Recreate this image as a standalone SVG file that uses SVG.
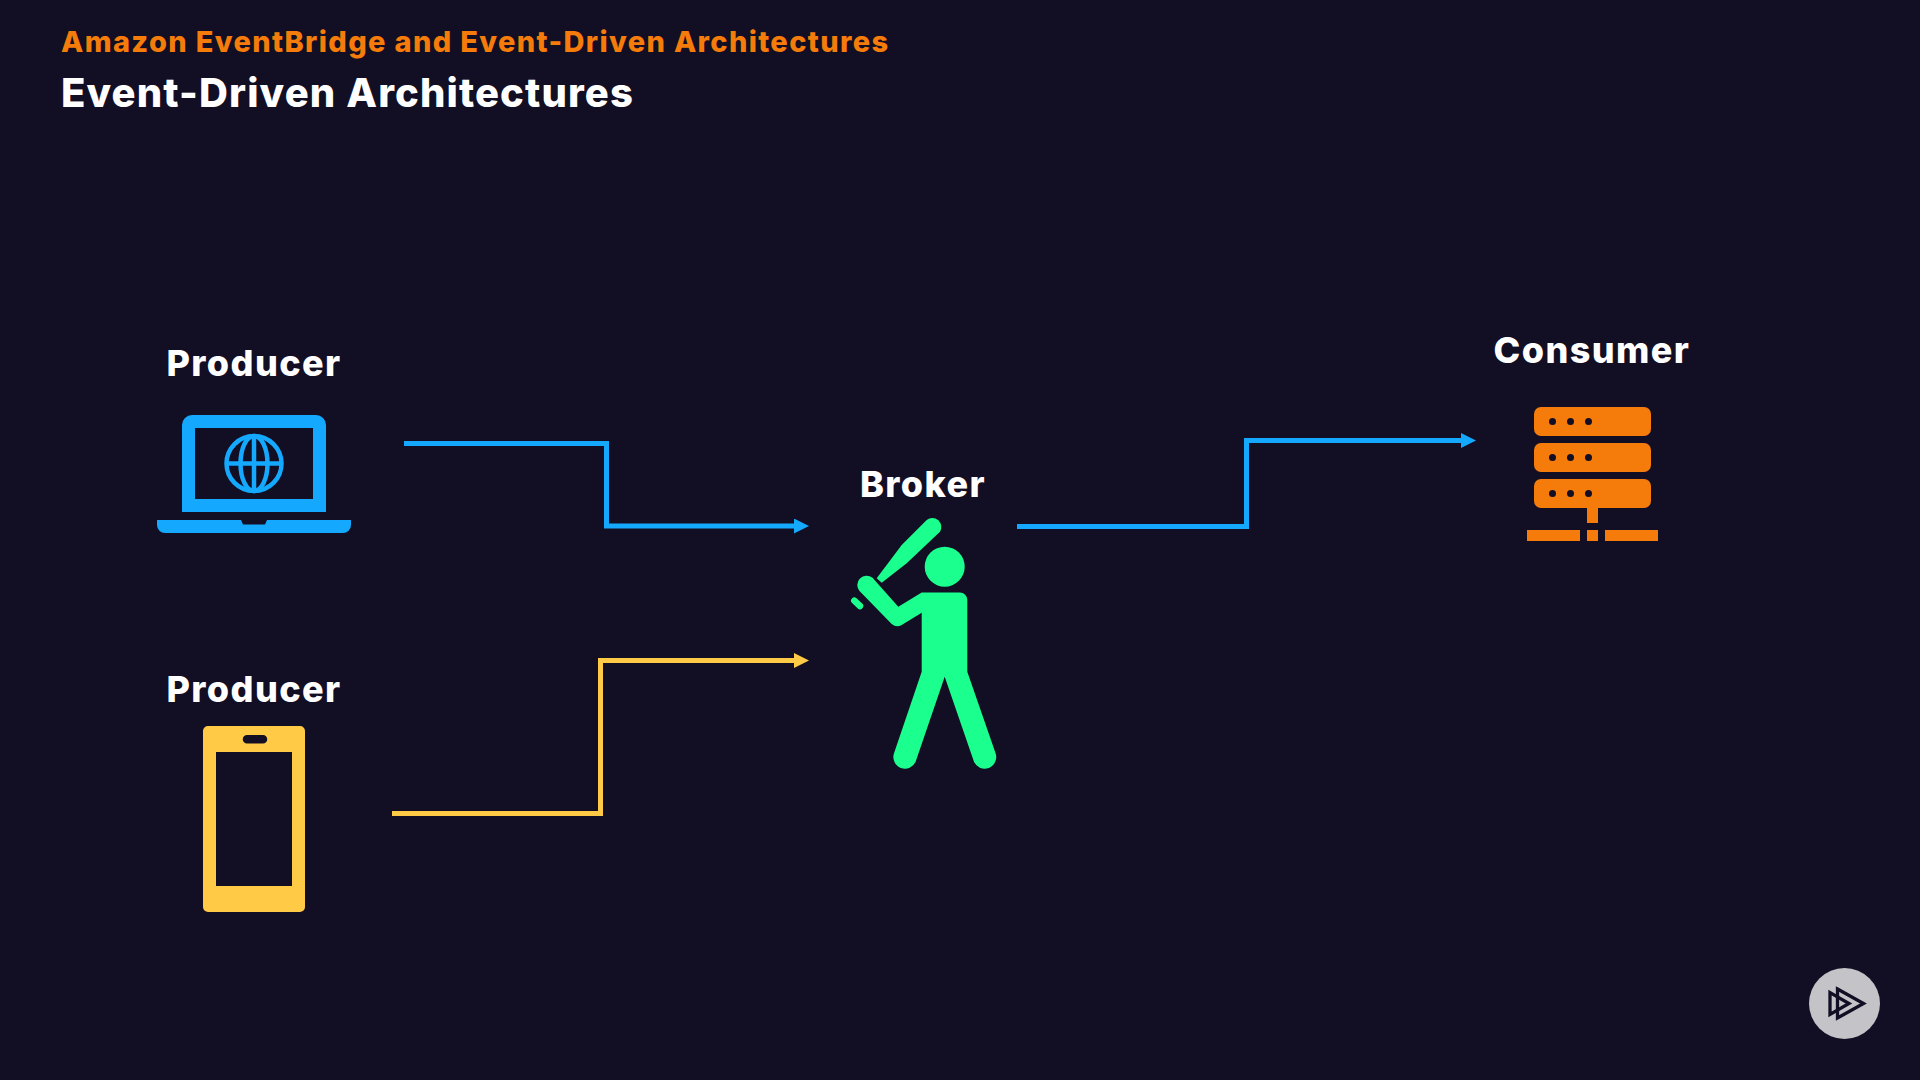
<svg xmlns="http://www.w3.org/2000/svg" width="1920" height="1080" viewBox="0 0 1920 1080">
<style>
text{font-family:"Inter","Noto Sans","Liberation Sans",sans-serif;font-weight:800}
.lb{font-size:36px;fill:#fff;text-anchor:middle;letter-spacing:1.400px}
.c{fill:none;stroke-width:5}
</style>
<defs>
<marker id="ab" markerUnits="userSpaceOnUse" markerWidth="15" markerHeight="15" refX="6" refY="7.500" orient="auto"><path d="M0 0L15 7.500L0 15Z" fill="#14a8ff"/></marker>
<marker id="ay" markerUnits="userSpaceOnUse" markerWidth="15" markerHeight="15" refX="6" refY="7.500" orient="auto"><path d="M0 0L15 7.500L0 15Z" fill="#ffcb47"/></marker>
</defs>
<rect width="1920" height="1080" fill="#120e23"/>
<text x="61" y="52" font-size="29" letter-spacing="1.350" fill="#f57c0a">Amazon EventBridge and Event-Driven Architectures</text>
<text x="61" y="107" font-size="40" letter-spacing="1.130" fill="#fff">Event-Driven Architectures</text>
<g id="connectors">
<path class="c" stroke="#14a8ff" marker-end="url(#ab)" d="M404 443.500H606.500V526H800"/>
<path class="c" stroke="#ffcb47" marker-end="url(#ay)" d="M392 813.500H600.500V660.500H800"/>
<path class="c" stroke="#14a8ff" marker-end="url(#ab)" d="M1017 526.500H1246.500V440.500H1467"/>
</g>
<g id="producer1">
<text class="lb" x="254" y="376">Producer</text>
<path fill="#14a8ff" fill-rule="evenodd" d="M182 512V425a10 10 0 0 1 10-10H316a10 10 0 0 1 10 10V512ZM195 428V499H313V428Z"/>
<path fill="#14a8ff" d="M157 520H241L243 524.500H265L267 520H351V525a8 8 0 0 1-8 8H165a8 8 0 0 1-8-8Z"/>
<g fill="none" stroke="#14a8ff" stroke-width="4.500"><circle cx="254" cy="463.500" r="27.500"/><ellipse cx="254" cy="463.500" rx="13.500" ry="27.500"/><path d="M254 436V491M226 463.500H282"/></g>
</g>
<g id="producer2">
<text class="lb" x="254" y="702">Producer</text>
<path fill="#ffcb47" fill-rule="evenodd" d="M208 726H300a5 5 0 0 1 5 5V907a5 5 0 0 1-5 5H208a5 5 0 0 1-5-5V731a5 5 0 0 1 5-5ZM216 752V886H292V752ZM247 735a4.250 4.250 0 0 0 0 8.500H263a4.250 4.250 0 0 0 0-8.500Z"/>
</g>
<g id="broker">
<text class="lb" x="923" y="497" letter-spacing="1">Broker</text>
<g fill="#1aff8e">
<circle cx="944.700" cy="566.700" r="20"/>
<path d="M921.700 592.500H960a7.300 7.300 0 0 1 7.300 7.300V671.700L995.500 753a11.500 11.500 0 0 1-21.700 8.200L944.700 676.700L915.800 761.200a11.500 11.500 0 0 1-21.700-8.200L921.700 671.700V612.700L901.700 625a9 9 0 0 1-10-1L859.500 591a9.300 9.300 0 0 1 13-13.200L898.300 606.700Z"/>
<path d="M926.700 520a9 9 0 0 1 13.300 11.700L906.700 563.300L881.700 582.700L876.700 578.300L901.700 545Z"/>
<path d="M854.300 600.700L860 606" stroke="#1aff8e" stroke-width="6.500" stroke-linecap="round"/>
</g>
</g>
<g id="consumer">
<text class="lb" x="1592" y="363" letter-spacing="1.150">Consumer</text>
<g fill="#f57c0a">
<rect x="1534" y="407" width="117" height="29" rx="7"/>
<rect x="1534" y="443" width="117" height="29" rx="7"/>
<rect x="1534" y="479" width="117" height="29" rx="7"/>
<rect x="1587" y="508" width="11" height="15"/>
<rect x="1527" y="530" width="53" height="11"/>
<rect x="1587" y="530" width="11" height="11"/>
<rect x="1605" y="530" width="53" height="11"/>
</g>
<g fill="#120e23">
<circle cx="1552.500" cy="421.500" r="3.500"/><circle cx="1570.500" cy="421.500" r="3.500"/><circle cx="1588.500" cy="421.500" r="3.500"/>
<circle cx="1552.500" cy="457.500" r="3.500"/><circle cx="1570.500" cy="457.500" r="3.500"/><circle cx="1588.500" cy="457.500" r="3.500"/>
<circle cx="1552.500" cy="493.500" r="3.500"/><circle cx="1570.500" cy="493.500" r="3.500"/><circle cx="1588.500" cy="493.500" r="3.500"/>
</g>
</g>
<g id="logo">
<circle cx="1844.500" cy="1003.500" r="35.500" fill="#c4c3c8"/>
<g fill="none" stroke="#120e23" stroke-width="3.300"><path d="M1837.500 989L1863.500 1003.500L1837.500 1018Z"/><path d="M1830 992.500V1014.500L1849 1003.500Z"/></g>
</g>
</svg>
